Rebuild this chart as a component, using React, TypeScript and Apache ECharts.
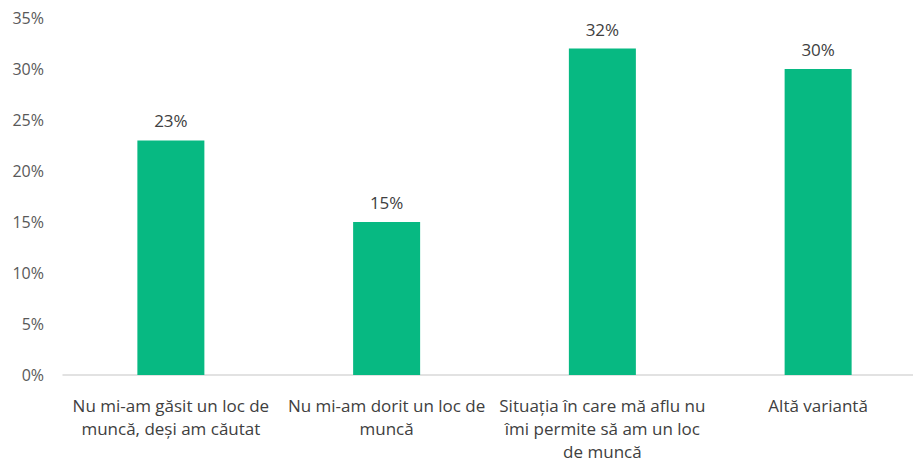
import React, { useEffect, useRef } from "react";
import * as echarts from "echarts";

const categories = [
  "Nu mi-am găsit un loc de\nmuncă, deși am căutat",
  "Nu mi-am dorit un loc de\nmuncă",
  "Situația în care mă aflu nu\nîmi permite să am un loc\nde muncă",
  "Altă variantă",
];
const values = [23, 15, 32, 30];
const yTicks = [0, 5, 10, 15, 20, 25, 30, 35];

export default function App() {
  const ref = useRef<HTMLDivElement>(null);
  useEffect(() => {
    if (!ref.current) return;
    const chart = echarts.init(ref.current, null, { renderer: "svg" });
    const font = "'Open Sans', sans-serif";
    chart.setOption({
      animation: false,
      grid: { left: 63, right: 0, top: 18, bottom: 83, containLabel: false },
      xAxis: {
        type: "category",
        data: categories,
        axisLine: { lineStyle: { color: "#d9d9d9", width: 1.5 } },
        axisTick: { show: false },
        axisLabel: {
          color: "#404040",
          fontSize: 17,
          fontFamily: font,
          lineHeight: 23,
          margin: 19,
          interval: 0,
        },
      },
      yAxis: {
        type: "value",
        min: yTicks[0],
        max: yTicks[yTicks.length - 1],
        interval: 5,
        axisLine: { show: false },
        axisTick: { show: false },
        splitLine: { show: false },
        axisLabel: {
          color: "#595959",
          fontSize: 16,
          fontFamily: font,
          margin: 19,
          formatter: (v: number) => v + "%",
        },
      },
      series: [
        {
          type: "bar",
          data: values,
          barWidth: 67,
          itemStyle: { color: "#07b982" },
          label: {
            show: true,
            position: "top",
            distance: 11,
            color: "#404040",
            fontSize: 17,
            fontFamily: font,
            formatter: (p: any) => p.value + "%",
          },
        },
      ],
    });
    return () => chart.dispose();
  }, []);
  return (
    <div style={{ position: "absolute", left: 0, top: 0, width: 913, height: 463, overflow: "hidden" }}>
      <div ref={ref} style={{ width: 926, height: 463 }} />
    </div>
  );
}
